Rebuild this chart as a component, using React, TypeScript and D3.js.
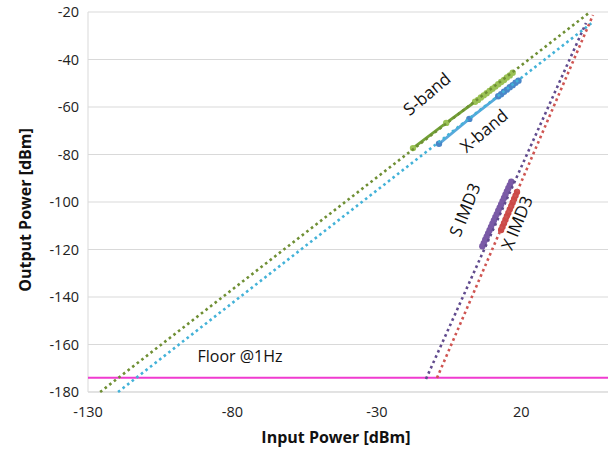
import React from "react";
import * as d3 from "d3";

// Measured fundamental and third-order intermod output vs. input power
const sBandIn = [-17.5, -6, 4, 5, 6, 7, 8, 9, 10, 11, 12, 13, 14, 15, 16, 17];
const sBandOut = [-77.3, -66.7, -57.8, -57.0, -56.0, -55.1, -54.2, -53.2, -52.3, -51.4, -50.4, -49.5, -48.6, -47.6, -46.7, -45.6];

const xBandIn = [-8.5, 2, 12, 13, 14, 15, 16, 17, 18, 19];
const xBandOut = [-75.5, -65.0, -55.5, -54.6, -53.6, -52.7, -51.7, -50.8, -49.8, -48.9];

const sImdIn = [6.5, 7, 7.5, 8, 8.5, 9, 9.5, 10, 10.5, 11, 11.5, 12, 12.5, 13, 13.5, 14, 14.5, 15, 15.5, 16, 16.5];
const sImdOut = [-118.6, -117.3, -115.9, -114.6, -113.2, -111.9, -110.5, -109.1, -107.8, -106.4, -105.1, -103.7, -102.4, -101.0, -99.7, -98.3, -96.9, -95.6, -94.2, -92.9, -91.5];

const xImdIn = [13, 13.5, 14, 14.5, 15, 15.5, 16, 16.5, 17, 17.5, 18, 18.5];
const xImdOut = [-111.8, -110.4, -108.9, -107.5, -106.0, -104.6, -103.1, -101.7, -100.2, -98.7, -97.3, -95.8];

// Extrapolated fit lines: [input, output] endpoints
const sBandFit = [[-125.8, -180], [43.8, -20]];
const xBandFit = [[-119.6, -180], [44.8, -24.2]];
const sImdFit = [[-13.0, -174.5], [42.4, -24.6]];
const xImdFit = [[-9.2, -174.1], [44.8, -21.3]];

const noiseFloor = -174;

const xTicks = [-130, -80, -30, 20];
const yTicks = [-20, -40, -60, -80, -100, -120, -140, -160, -180];

const W = 611;
const H = 451;
const left = 88;
const right = 608;
const top = 12;
const bottom = 392;

const FONT = "'Open Sans', 'Noto Sans', sans-serif";

export default function App() {
  const x = d3.scaleLinear().domain([-130, 50]).range([left, right]);
  const y = d3.scaleLinear().domain([-180, -20]).range([bottom, top]);
  const line = d3
    .line<number[]>()
    .x((d) => x(d[0]))
    .y((d) => y(d[1]));

  const zip = (a: number[], b: number[]) => a.map((v, i) => [v, b[i]]);

  const series = [
    { pts: zip(sBandIn, sBandOut), line: "#72a236", marker: "#9bc255", r: 3.2 },
    { pts: zip(xBandIn, xBandOut), line: "#5aa8dc", marker: "#4a86c8", r: 3.2 },
    { pts: zip(sImdIn, sImdOut), line: "#7a5aa6", marker: "#7a5aa6", r: 3.2 },
    { pts: zip(xImdIn, xImdOut), line: "#cc4a47", marker: "#cc4a47", r: 3.2 },
  ];

  const fits = [
    { pts: sBandFit, color: "#6f8f34" },
    { pts: xBandFit, color: "#43b2d8" },
    { pts: sImdFit, color: "#614b8e" },
    { pts: xImdFit, color: "#cf5552" },
  ];

  const labels = [
    { text: "S-band", cx: 427, cy: 94, rot: -40 },
    { text: "X-band", cx: 484, cy: 131, rot: -40 },
    { text: "S IMD3", cx: 465, cy: 210, rot: -68 },
    { text: "X IMD3", cx: 517, cy: 223, rot: -68 },
  ];

  return (
    <svg
      width={W}
      height={H}
      style={{ position: "absolute", left: 0, top: 0, background: "#fff" }}
      fontFamily={FONT}
    >
      {/* horizontal gridlines */}
      {yTicks.map((t) => (
        <line key={t} x1={left} x2={right} y1={y(t)} y2={y(t)} stroke="#d9d9d9" strokeWidth={1} />
      ))}
      <line x1={left} x2={left} y1={top} y2={bottom} stroke="#d9d9d9" strokeWidth={1} />
      <line x1={left} x2={right} y1={bottom} y2={bottom} stroke="#d9d9d9" strokeWidth={1} />

      {/* tick labels */}
      {yTicks.map((t) => (
        <text key={t} x={79} y={y(t)} dy="0.35em" textAnchor="end" fontSize={14.5} fill="#222">
          {t}
        </text>
      ))}
      {xTicks.map((t) => (
        <text key={t} x={x(t)} y={417} textAnchor="middle" fontSize={14.5} fill="#222">
          {t}
        </text>
      ))}

      {/* axis titles */}
      <text x={336} y={443} textAnchor="middle" fontSize={16} fontWeight="bold" fill="#111">
        Input Power [dBm]
      </text>
      <text
        transform={`translate(31,${(top + bottom) / 2 + 8}) rotate(-90)`}
        textAnchor="middle"
        fontSize={16}
        fontWeight="bold"
        fill="#111"
      >
        Output Power [dBm]
      </text>

      {/* noise floor */}
      <line x1={left} x2={right} y1={y(noiseFloor)} y2={y(noiseFloor)} stroke="#f03bd0" strokeWidth={2} />
      <text x={240} y={362} textAnchor="middle" fontSize={16} fill="#111">
        Floor @1Hz
      </text>

      {/* measured data */}
      {series.map((s, i) => (
        <g key={i}>
          <path d={line(s.pts) ?? ""} fill="none" stroke={s.line} strokeWidth={2.8} />
          {s.pts.map((p, j) => (
            <circle key={j} cx={x(p[0])} cy={y(p[1])} r={s.r} fill={s.marker} />
          ))}
        </g>
      ))}

      {/* fit lines */}
      {fits.map((f, i) => (
        <path
          key={i}
          d={line(f.pts) ?? ""}
          fill="none"
          stroke={f.color}
          strokeWidth={2.6}
          strokeDasharray="2.6 3.2"
        />
      ))}

      {/* series labels */}
      {labels.map((l) => (
        <text
          key={l.text}
          transform={`translate(${l.cx},${l.cy}) rotate(${l.rot})`}
          textAnchor="middle"
          dy="0.35em"
          fontSize={17}
          fill="#111"
        >
          {l.text}
        </text>
      ))}
    </svg>
  );
}
